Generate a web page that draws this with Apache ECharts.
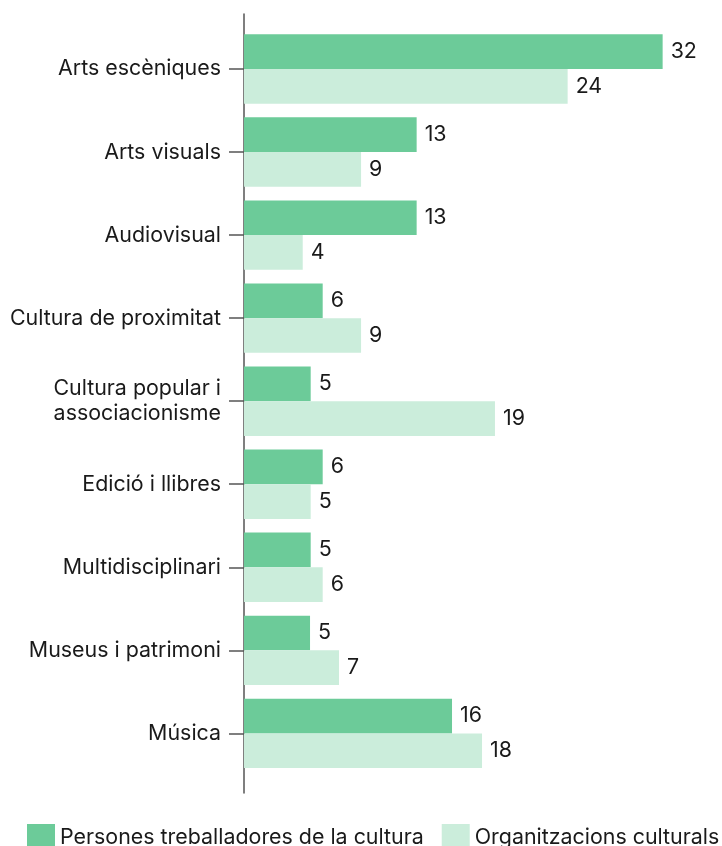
<!DOCTYPE html>
<html>
<head>
<meta charset="utf-8">
<script src="https://cdn.jsdelivr.net/npm/echarts@6/dist/echarts.min.js"></script>
<style>
html,body{margin:0;padding:0;background:#fff;}
#c{width:722px;height:846px;}
</style>
</head>
<body>
<div id="c"></div>
<script>
const categories = ["Arts escèniques","Arts visuals","Audiovisual","Cultura de proximitat","Cultura popular i\nassociacionisme","Edició i llibres","Multidisciplinari","Museus i patrimoni","Música"];
const seriesNames = ["Persones treballadores de la cultura","Organitzacions culturals"];
const persones = [32.08,13.23,13.23,6.03,5.11,6.03,5.11,5.06,15.94];
const organitzacions = [24.8,8.97,4.5,8.97,19.23,5.11,6.03,7.28,18.24];
const personesLabels = [32,13,13,6,5,6,5,5,16];
const organitzacionsLabels = [24,9,4,9,19,5,6,7,18];

const FONT = 'Inter';
const FS = 21.4;
const TXT = '#1a1a1a';
const chart = echarts.init(document.getElementById('c'), null, {renderer:'canvas'});
const labelFor = arr => ({
  show:true, position:'right', distance:8,
  fontFamily:FONT, fontSize:FS, color:TXT, padding:[3,0,0,0],
  formatter: p => String(arr[p.dataIndex])
});
chart.setOption({
  animation:false,
  backgroundColor:'#fff',
  textStyle:{fontFamily:FONT},
  legend:{
    left:22, top:819, width:700, itemWidth:28, itemHeight:28, itemGap:18,
    icon:'rect',
    textStyle:{fontFamily:FONT, fontSize:21.4, color:TXT, padding:[0,0,2,0]},
    data:seriesNames
  },
  grid:[
    {left:244, top:14, height:779, width:469.8},
    {left:244, top:27.5, height:747.4, width:469.8}
  ],
  xAxis:[
    {gridIndex:0, type:'value', min:0, max:36, show:false},
    {gridIndex:1, type:'value', min:0, max:36, show:false}
  ],
  yAxis:[
    {gridIndex:0, type:'value', min:0, max:1,
     axisLine:{show:true, lineStyle:{color:'#555', width:1.5}},
     axisTick:{show:false}, axisLabel:{show:false}, splitLine:{show:false}},
    {gridIndex:1, type:'category', data:categories, inverse:true,
     axisLine:{show:false},
     axisTick:{show:true, alignWithLabel:true, length:15, lineStyle:{color:'#555', width:1.5}},
     axisLabel:{margin:23, fontFamily:FONT, fontSize:FS, color:TXT, lineHeight:25, align:'right', padding:[3,0,0,0]},
     splitLine:{show:false}}
  ],
  series:[
    {name:seriesNames[0], type:'bar', xAxisIndex:1, yAxisIndex:1, data:persones,
     barWidth:34.7, barGap:'0%', itemStyle:{color:'#6ccb99'}, label:labelFor(personesLabels)},
    {name:seriesNames[1], type:'bar', xAxisIndex:1, yAxisIndex:1, data:organitzacions,
     barWidth:34.7, barGap:'0%', itemStyle:{color:'#cbeddb'}, label:labelFor(organitzacionsLabels)}
  ]
});
</script>
</body>
</html>
